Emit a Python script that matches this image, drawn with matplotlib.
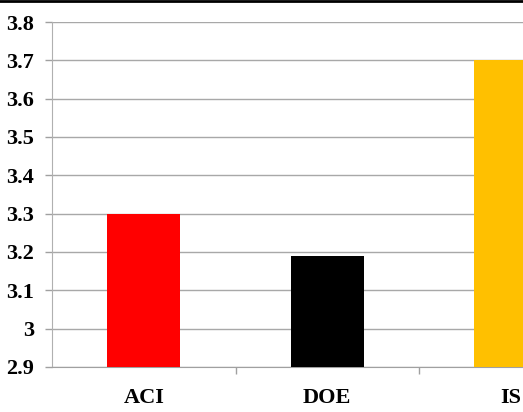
import matplotlib.pyplot as plt
from matplotlib.lines import Line2D

# Values per method
methods = ["ACI", "DOE", "IS"]
values = [3.3, 3.19, 3.7]
colors = ["#FF0000", "#000000", "#FFC000"]
y_ticks = [2.9, 3.0, 3.1, 3.2, 3.3, 3.4, 3.5, 3.6, 3.7, 3.8]
y_tick_labels = ["2.9", "3", "3.1", "3.2", "3.3", "3.4", "3.5", "3.6", "3.7", "3.8"]

plt.rcParams["font.family"] = ["Liberation Serif", "DejaVu Serif"]

fig = plt.figure(figsize=(5.23, 4.12), dpi=100)
# Axes run past the right edge, so the last bar gets cut off
ax = fig.add_axes([52 / 523, 45 / 412, 550.5 / 523, 345 / 412])

x = list(range(len(methods)))
ax.bar(x, values, width=0.40, color=colors, zorder=3)

ax.set_xlim(-0.5, len(methods) - 0.5)
ax.set_ylim(2.9, 3.8)
ax.set_yticks(y_ticks)
ax.set_yticklabels(y_tick_labels, fontsize=16, fontweight="bold")

# Category labels, ticks sit between categories
ax.set_xticks(x)
ax.set_xticklabels(methods, fontsize=16, fontweight="bold")
ax.tick_params(axis="x", length=0, pad=15)
ax.set_xticks([0.5, 1.5], minor=True)
ax.tick_params(axis="x", which="minor", length=5, color="#A0A0A0", width=1)
ax.tick_params(axis="y", length=5, color="#A0A0A0", width=1, pad=8)

ax.grid(axis="y", color="#A8A8A8", linewidth=1, zorder=0)
for side in ["top", "right"]:
    ax.spines[side].set_visible(False)
ax.spines["left"].set_color("#B0B0B0")
ax.spines["bottom"].set_color("#A0A0A0")

# Black rule along the top edge
fig.add_artist(Line2D([0, 1], [1 - 1 / 412, 1 - 1 / 412], color="black", linewidth=2,
                      transform=fig.transFigure))

fig.savefig("out.png", dpi=100)
plt.close()
